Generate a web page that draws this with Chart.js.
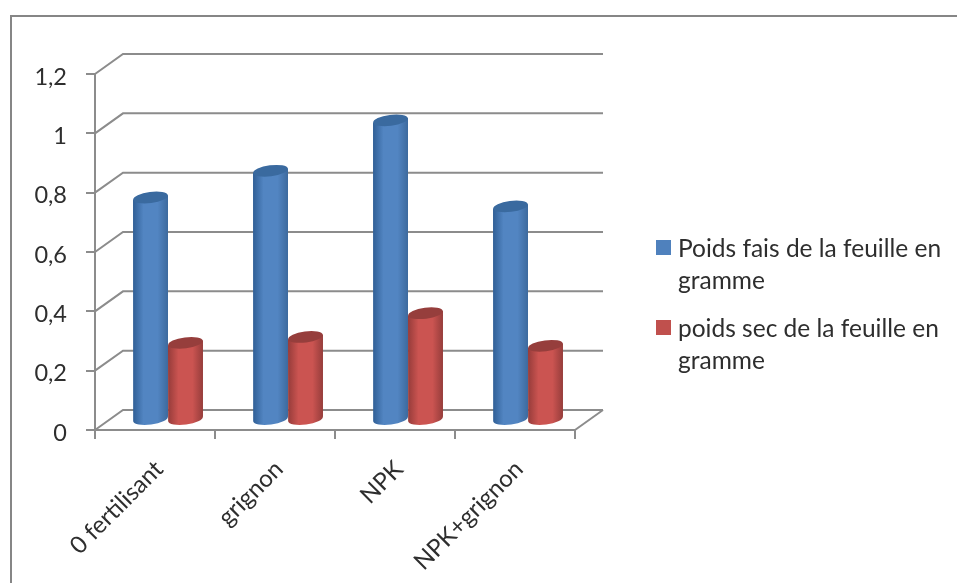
<!DOCTYPE html>
<html>
<head>
<meta charset="utf-8">
<title>Poids des feuilles</title>
<script src="https://cdn.jsdelivr.net/npm/chart.js@4/dist/chart.umd.min.js"></script>
<style>
  html, body { margin: 0; height: 100%; background: #fff; overflow: hidden; }
  #wrap { position: relative; width: 957px; height: 583px; overflow: hidden; }
  #frame { position: absolute; left: 10px; top: 15px; width: 1200px; height: 900px; border: 2px solid #868686; }
  canvas { position: absolute; left: 0; top: 0; }
  .key { position: absolute; left: 678px; width: 279px; font: 24.5px/32px Lato, sans-serif; color: #2e2e2e; white-space: pre; }
  .swatch { position: absolute; left: 656px; width: 15px; height: 15px; }
</style>
</head>
<body>
<div id="wrap">
  <div id="frame"></div>
  <canvas id="poidsChart" width="957" height="583"></canvas>
</div>
<script>
const categories = ["0 fertilisant", "grignon", "NPK", "NPK+grignon"];
const poidsFais = [0.75, 0.84, 1.01, 0.72];
const poidsSec = [0.26, 0.28, 0.36, 0.25];
const yTicks = [0, 0.2, 0.4, 0.6, 0.8, 1, 1.2];
const legendLines = [
  ["Poids fais de la feuille en", "gramme"],
  ["poids sec de la feuille en", "gramme"],
];

const gridColor = "#8c8c8c";
const textColor = "#2e2e2e";
const depthX = 28;
const depthY = 20;

// colours of each cylinder: edge, middle, far edge, lid
const shades = [
  { left: "#305f96", mid: "#5285c2", right: "#3d6a9e", lid: "#3a6a9f" },
  { left: "#963c3a", mid: "#cb5451", right: "#963d3b", lid: "#963e3c" },
];

function drawCylinder(ctx, x, top, bottom, w, shade) {
  const rx = w / 2;
  const ry = 5.5;
  const tilt = -0.13;
  const grad = ctx.createLinearGradient(x - rx, 0, x + rx, 0);
  grad.addColorStop(0, shade.left);
  grad.addColorStop(0.3, shade.mid);
  grad.addColorStop(0.7, shade.mid);
  grad.addColorStop(1, shade.right);

  const dy = Math.sin(tilt) * rx;
  ctx.fillStyle = grad;
  ctx.beginPath();
  ctx.moveTo(x - rx, top - dy);
  ctx.lineTo(x + rx, top + dy);
  ctx.lineTo(x + rx, bottom + dy);
  ctx.ellipse(x, bottom, rx, ry, tilt, 0, Math.PI);
  ctx.closePath();
  ctx.fill();

  ctx.fillStyle = shade.lid;
  ctx.beginPath();
  ctx.ellipse(x, top, rx, ry, tilt, 0, Math.PI * 2);
  ctx.fill();
}

// back wall lines plus the cylinders, pushed back by half the depth
const depth3d = {
  id: "depth3d",
  beforeDatasetsDraw(chart) {
    const { ctx, scales } = chart;
    const left = scales.x.left;
    const right = scales.x.right;
    const floor = scales.y.getPixelForValue(0);

    ctx.save();
    ctx.strokeStyle = gridColor;
    ctx.lineWidth = 2;
    yTicks.forEach((v) => {
      const y = scales.y.getPixelForValue(v);
      ctx.beginPath();
      ctx.moveTo(left, y);
      ctx.lineTo(left + depthX, y - depthY);
      ctx.lineTo(right + depthX, y - depthY);
      ctx.stroke();
    });
    ctx.beginPath();
    ctx.moveTo(right, floor);
    ctx.lineTo(right + depthX, floor - depthY);
    ctx.stroke();

    chart.data.datasets.forEach((ds, i) => {
      chart.getDatasetMeta(i).data.forEach((bar) => {
        drawCylinder(
          ctx,
          bar.x + depthX / 2 - 1,
          bar.y - depthY / 2,
          bar.base - depthY / 2,
          bar.width,
          shades[i]
        );
      });
    });
    ctx.restore();
    return false;
  },
};

const chartCtx = document.getElementById("poidsChart").getContext("2d");
new Chart(chartCtx, {
  type: "bar",
  data: {
    labels: categories,
    datasets: [
      { label: legendLines[0].join(" "), data: poidsFais, backgroundColor: "#4f81bd" },
      { label: legendLines[1].join(" "), data: poidsSec, backgroundColor: "#c0504d" },
    ],
  },
  options: {
    responsive: false,
    animation: false,
    layout: { padding: { top: 74, right: 382 } },
    categoryPercentage: 0.583,
    barPercentage: 1,
    plugins: { legend: { display: false }, tooltip: { enabled: false } },
    scales: {
      x: {
        afterFit: (scale) => { scale.height = 153; },
        border: { color: gridColor, width: 2 },
        grid: { offset: true, drawOnChartArea: false, color: gridColor, lineWidth: 2, tickLength: 9 },
        ticks: {
          color: textColor,
          font: { family: "Lato", size: 24 },
          minRotation: 45,
          maxRotation: 45,
          padding: 16,
          labelOffset: 4,
        },
      },
      y: {
        min: 0,
        max: 1.2,
        afterFit: (scale) => { scale.width = 95; },
        afterBuildTicks: (scale) => { scale.ticks = yTicks.map((value) => ({ value })); },
        border: { color: gridColor, width: 2 },
        grid: { drawOnChartArea: false, color: gridColor, lineWidth: 2, tickLength: 9 },
        ticks: {
          color: textColor,
          font: { family: "Lato", size: 23.5 },
          padding: 19,
          labelOffset: 3,
          callback: (v) => String(v).replace(".", ","),
        },
      },
    },
  },
  plugins: [depth3d],
});

// legend built as page text so it can wrap on two lines
const wrap = document.getElementById("wrap");
const swatchColors = ["#4f81bd", "#c0504d"];
const legendTops = [232, 312];
legendLines.forEach((lines, i) => {
  const swatch = document.createElement("div");
  swatch.className = "swatch";
  swatch.style.top = legendTops[i] + 8 + "px";
  swatch.style.background = swatchColors[i];
  wrap.appendChild(swatch);

  const key = document.createElement("div");
  key.className = "key";
  key.style.top = legendTops[i] + "px";
  key.textContent = lines.join("\n");
  wrap.appendChild(key);
});
</script>
</body>
</html>
